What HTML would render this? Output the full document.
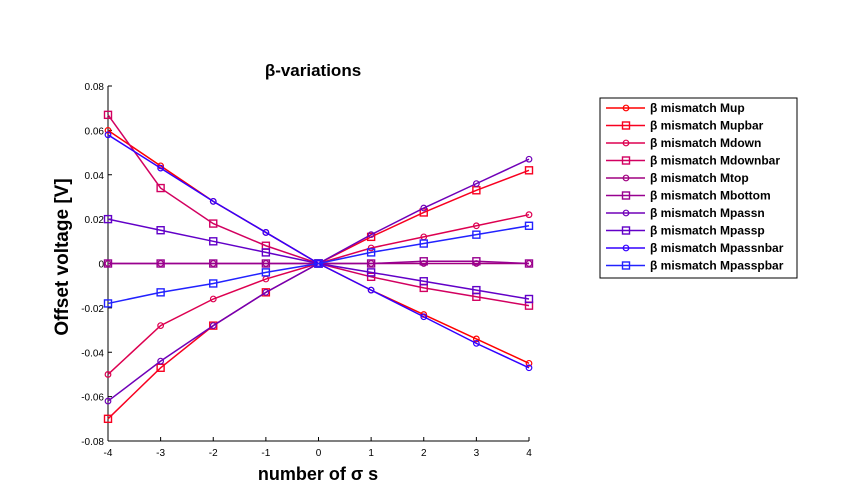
<!DOCTYPE html>
<html><head><meta charset="utf-8"><style>
body{margin:0;background:#fff;}
svg{display:block;font-family:"Liberation Sans",sans-serif;}
</style></head><body>
<svg id="chart" width="860" height="495">
<rect width="860" height="495" fill="#fff"/>
<text x="313" y="76" text-anchor="middle" font-size="17" font-weight="bold">β-variations</text>
<g id="axes"></g>
<g id="series"></g>
<text x="318" y="480" text-anchor="middle" font-size="18" font-weight="bold">number of σ s</text>
<text transform="translate(68,257) rotate(-90)" text-anchor="middle" font-size="19" font-weight="bold">Offset voltage [V]</text>
<g id="legend"></g>
</svg>
<script>
const xCats=[-4,-3,-2,-1,0,1,2,3,4];
const yTicks=[0.08,0.06,0.04,0.02,0,-0.02,-0.04,-0.06,-0.08];
const yTickLabels=["0.08","0.06","0.04","0.02","0","-0.02","-0.04","-0.06","-0.08"];
const seriesNames=["Mup","Mupbar","Mdown","Mdownbar","Mtop","Mbottom","Mpassn","Mpassp","Mpassnbar","Mpasspbar"];
const sMup=[0.060,0.044,0.028,0.014,0,-0.012,-0.023,-0.034,-0.045];
const sMupbar=[-0.070,-0.047,-0.028,-0.013,0,0.012,0.023,0.033,0.042];
const sMdown=[-0.050,-0.028,-0.016,-0.007,0,0.007,0.012,0.017,0.022];
const sMdownbar=[0.067,0.034,0.018,0.008,0,-0.006,-0.011,-0.015,-0.019];
const sMtop=[0,0,0,0,0,0,0,0,0];
const sMbottom=[0,0,0,0,0,0,0.001,0.001,0];
const sMpassn=[-0.062,-0.044,-0.028,-0.013,0,0.013,0.025,0.036,0.047];
const sMpassp=[0.020,0.015,0.010,0.005,0,-0.004,-0.008,-0.012,-0.016];
const sMpassnbar=[0.058,0.043,0.028,0.014,0,-0.012,-0.024,-0.036,-0.047];
const sMpasspbar=[-0.018,-0.013,-0.009,-0.004,0,0.005,0.009,0.013,0.017];
const allSeries=[sMup,sMupbar,sMdown,sMdownbar,sMtop,sMbottom,sMpassn,sMpassp,sMpassnbar,sMpasspbar];
const colors=["#ff0000","#f80020","#dd0050","#d20060","#a00080","#980090","#7000b8","#6200c8","#3300ff","#2222ff"];
const markers=["o","s","o","s","o","s","o","s","o","s"];

const X0=108,X1=529,Y0=86,Y1=441;
const xs=v=>X0+(v+4)/8*(X1-X0);
const ys=v=>Y0+(0.08-v)/0.16*(Y1-Y0);
const NS="http://www.w3.org/2000/svg";
function mk(t,a,p){const e=document.createElementNS(NS,t);for(const k in a)e.setAttribute(k,a[k]);p.appendChild(e);return e;}

const axes=document.getElementById('axes');
let ax=mk('line',{x1:X0,y1:Y0,x2:X0,y2:Y1,stroke:'#000'},axes);


ax=mk('line',{x1:X0,y1:Y1,x2:X1,y2:Y1,stroke:'#000'},axes);


yTicks.forEach((v,i)=>{
  mk('line',{x1:X0,y1:ys(v),x2:X0+4,y2:ys(v),stroke:'#000'},axes);
  const t=mk('text',{x:X0-4,y:ys(v)+4,'text-anchor':'end','font-size':'10'},axes);
  t.textContent=yTickLabels[i];
  
  
});
xCats.forEach(v=>{
  mk('line',{x1:xs(v),y1:Y1,x2:xs(v),y2:Y1-4,stroke:'#000'},axes);
  const t=mk('text',{x:xs(v),y:Y1+15,'text-anchor':'middle','font-size':'10'},axes);
  t.textContent=String(v);
  
  
});

function marker(g,m,x,y,c){
  if(m==='o') mk('circle',{cx:x,cy:y,r:2.8,fill:'none',stroke:c,'stroke-width':1.2},g);
  else mk('rect',{x:x-3.5,y:y-3.5,width:7,height:7,fill:'none',stroke:c,'stroke-width':1.4},g);
}
const sg=document.getElementById('series');
allSeries.forEach((d,i)=>{
  const g=mk('g',{},sg);
  
  
  mk('polyline',{points:d.map((v,j)=>xs(xCats[j])+','+ys(v)).join(' '),fill:'none',stroke:colors[i],'stroke-width':1.5},g);
  d.forEach((v,j)=>marker(g,markers[i],xs(xCats[j]),ys(v),colors[i]));
});

const lg=document.getElementById('legend');
mk('rect',{x:600,y:98,width:197,height:180,fill:'#fff',stroke:'#000'},lg);
seriesNames.forEach((n,i)=>{
  const y=108+i*17.5;
  const e=mk('g',{},lg);
  
  
  mk('line',{x1:606,y1:y,x2:645,y2:y,stroke:colors[i],'stroke-width':1.5},e);
  marker(e,markers[i],626,y,colors[i]);
  const t=mk('text',{x:650,y:y+4,'font-size':'12','font-weight':'bold'},e);
  t.textContent='β mismatch '+n;
});
</script>
</body></html>
